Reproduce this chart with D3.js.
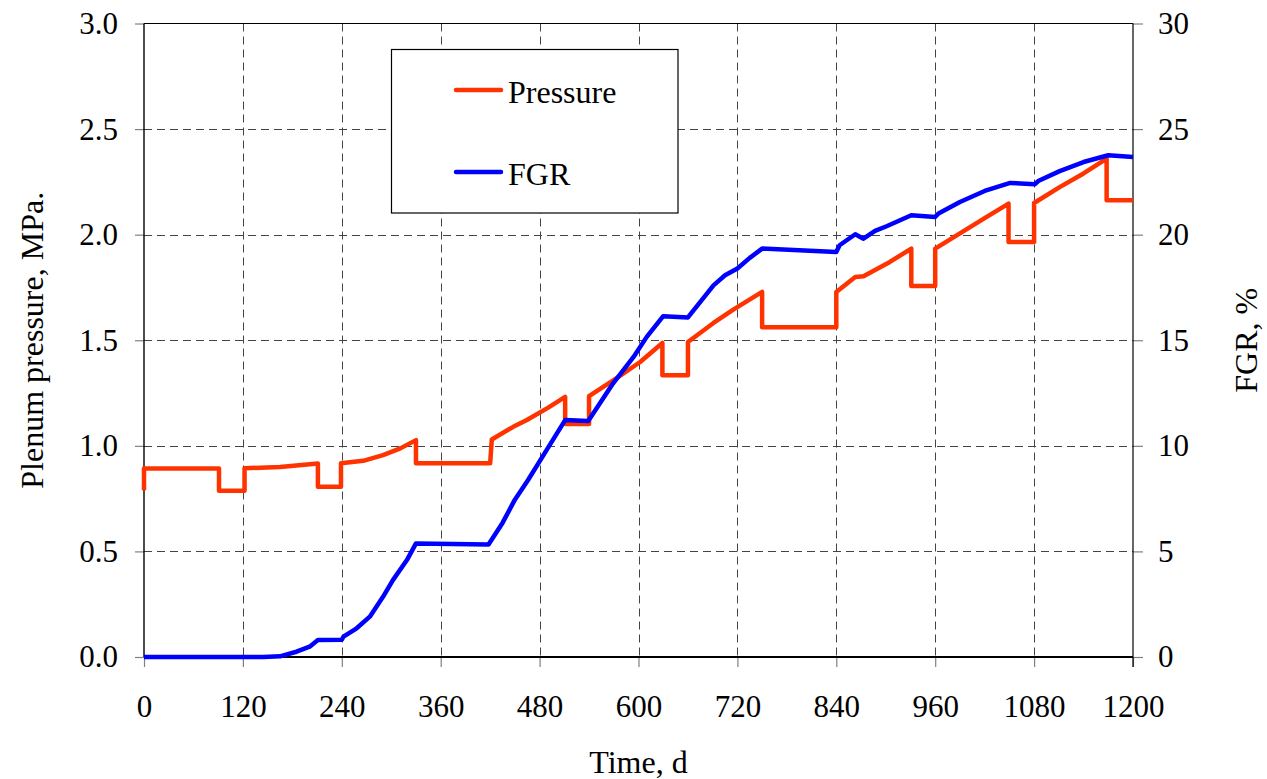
<!DOCTYPE html>
<html>
<head>
<meta charset="utf-8">
<script src="https://cdn.jsdelivr.net/npm/d3@7"></script>
<style>
  html, body { margin: 0; padding: 0; background: #fff; }
  svg { display: block; }
  text { font-family: "Liberation Serif", "Times New Roman", serif; fill: #000; }
</style>
</head>
<body>
<svg id="chart" width="1267" height="779"></svg>
<script>
// ---- Data ----
const xTicks = [0, 120, 240, 360, 480, 600, 720, 840, 960, 1080, 1200];
const yLeftTicks = [0.0, 0.5, 1.0, 1.5, 2.0, 2.5, 3.0];
const yRightTicks = [0, 5, 10, 15, 20, 25, 30];

// Plenum pressure, MPa
const pressureDays = [0, 0, 91, 91, 122, 122, 165, 211, 211, 239, 239, 266, 290, 311, 330, 330,
  420, 422, 448, 464, 490, 511, 511, 540, 540, 573, 602, 629, 629, 660, 660, 691, 715, 750, 750,
  840, 840, 863, 873, 905, 931, 931, 960, 960, 990, 1022, 1049, 1049, 1080, 1080, 1111, 1140, 1168, 1168, 1200];
const pressureValues = [0.79, 0.893, 0.893, 0.787, 0.787, 0.894, 0.900, 0.916, 0.806, 0.806, 0.917, 0.929, 0.956, 0.988, 1.027, 0.917,
  0.917, 1.030, 1.090, 1.121, 1.180, 1.232, 1.103, 1.103, 1.235, 1.319, 1.397, 1.487, 1.334, 1.334, 1.492, 1.582, 1.645, 1.729, 1.562,
  1.562, 1.729, 1.800, 1.803, 1.871, 1.934, 1.757, 1.757, 1.934, 2.006, 2.083, 2.147, 1.965, 1.965, 2.150, 2.225, 2.290, 2.360, 2.163, 2.163];

// FGR, %
const fgrDays = [0, 145, 165, 185, 201, 211, 240, 242, 258, 274, 290, 302, 319, 330, 418, 435, 450, 466, 486, 511, 539,
  569, 594, 610, 630, 660, 691, 705, 720, 735, 750, 840, 844, 863, 873, 887, 901, 931, 960, 964, 990, 1020, 1051, 1081, 1085,
  1111, 1140, 1170, 1200];
const fgrValues = [0, 0, 0.03, 0.25, 0.49, 0.80, 0.82, 0.96, 1.36, 1.91, 2.85, 3.64, 4.59, 5.38, 5.33, 6.35, 7.45, 8.38, 9.64, 11.22, 11.18,
  12.95, 14.21, 15.16, 16.14, 16.08, 17.60, 18.08, 18.40, 18.90, 19.34, 19.18, 19.50, 20.02, 19.81, 20.18, 20.40, 20.92, 20.84, 21.00, 21.55, 22.07, 22.45, 22.39, 22.54,
  23.01, 23.44, 23.76, 23.68];

const seriesNames = ["Pressure", "FGR"];
const seriesColors = ["#FF3300", "#0000FF"];

// ---- Layout ----
const L = 144, R = 1133, T = 23.5, B = 657;
const FS = 31;

const svg = d3.select("#chart");
const x = d3.scaleLinear().domain([0, 1200]).range([L, R]);
const yL = d3.scaleLinear().domain([0, 3]).range([B, T]);
const yR = d3.scaleLinear().domain([0, 30]).range([B, T]);

// grid
const grid = svg.append("g").attr("stroke", "#444").attr("stroke-width", 1).attr("stroke-dasharray", "8,5");
grid.selectAll("line.v").data(xTicks.slice(1, -1)).join("line")
  .attr("x1", d => Math.round(x(d)) + 0.5).attr("x2", d => Math.round(x(d)) + 0.5)
  .attr("y1", T).attr("y2", B);
grid.selectAll("line.h").data(yLeftTicks.slice(1, -1)).join("line")
  .attr("x1", L).attr("x2", R)
  .attr("y1", d => Math.round(yL(d)) + 0.5).attr("y2", d => Math.round(yL(d)) + 0.5);

// axes
const xAxis = d3.axisBottom(x).tickValues(xTicks).tickSize(10).tickPadding(28).tickFormat(d3.format("d"));
const gx = svg.append("g").attr("transform", `translate(0,${B})`).call(xAxis);
const yAxisL = d3.axisLeft(yL).tickValues(yLeftTicks).tickSize(9).tickPadding(17).tickFormat(d3.format(".1f"));
const gyl = svg.append("g").attr("transform", `translate(${L},0)`).call(yAxisL);
const yAxisR = d3.axisRight(yR).tickValues(yRightTicks).tickSize(10).tickPadding(15).tickFormat(d3.format("d"));
const gyr = svg.append("g").attr("transform", `translate(${R},0)`).call(yAxisR);

[gx, gyl, gyr].forEach(g => {
  g.select(".domain").remove();
  g.selectAll(".tick line").attr("stroke", "#808080").attr("stroke-width", 1.2);
  g.selectAll(".tick text").attr("font-size", FS).attr("font-family", "Liberation Serif");
});
gx.selectAll(".tick text").attr("dy", "0.71em");

// frame
svg.append("line").attr("x1", L).attr("x2", R).attr("y1", T).attr("y2", T).attr("stroke", "#000").attr("stroke-width", 1.2);
svg.append("line").attr("x1", L).attr("x2", L).attr("y1", T).attr("y2", B).attr("stroke", "#000").attr("stroke-width", 1.4);
svg.append("line").attr("x1", R).attr("x2", R).attr("y1", T).attr("y2", B + 10).attr("stroke", "#000").attr("stroke-width", 1.2);
svg.append("line").attr("x1", L).attr("x2", R).attr("y1", B).attr("y2", B).attr("stroke", "#000").attr("stroke-width", 2);

// legend box
const lg = svg.append("g");
lg.append("rect").attr("x", 391.5).attr("y", 49.5).attr("width", 286.5).attr("height", 163.5)
  .attr("fill", "#fff").attr("stroke", "#000").attr("stroke-width", 1.2);
const legendY = [90, 172];
seriesNames.forEach((n, i) => {
  lg.append("line").attr("x1", 456).attr("x2", 501).attr("y1", legendY[i]).attr("y2", legendY[i])
    .attr("stroke", seriesColors[i]).attr("stroke-width", 4.5).attr("stroke-linecap", "round");
  lg.append("text").attr("x", 508).attr("y", legendY[i] + 13).attr("font-size", FS + 1).text(n);
});

// series lines
const pLine = d3.line().x(d => x(d[0])).y(d => yL(d[1]));
const fLine = d3.line().x(d => x(d[0])).y(d => yR(d[1]));
svg.append("path").datum(pressureDays.map((d, i) => [d, pressureValues[i]]))
  .attr("d", pLine).attr("fill", "none").attr("stroke", seriesColors[0]).attr("stroke-width", 4.5)
  .attr("stroke-linejoin", "round").attr("stroke-linecap", "butt");
svg.append("path").datum(fgrDays.map((d, i) => [d, fgrValues[i]]))
  .attr("d", fLine).attr("fill", "none").attr("stroke", seriesColors[1]).attr("stroke-width", 4.5)
  .attr("stroke-linejoin", "round").attr("stroke-linecap", "butt");

// axis titles
svg.append("text").attr("x", (L + R) / 2).attr("y", 773).attr("text-anchor", "middle").attr("font-size", FS + 1).text("Time, d");
svg.append("text").attr("transform", `translate(43,${(T + B) / 2}) rotate(-90)`).attr("text-anchor", "middle")
  .attr("font-size", FS + 1).text("Plenum pressure, MPa.");
svg.append("text").attr("transform", `translate(1257,${(T + B) / 2}) rotate(-90)`).attr("text-anchor", "middle")
  .attr("font-size", FS + 1).text("FGR, %");
</script>
</body>
</html>
